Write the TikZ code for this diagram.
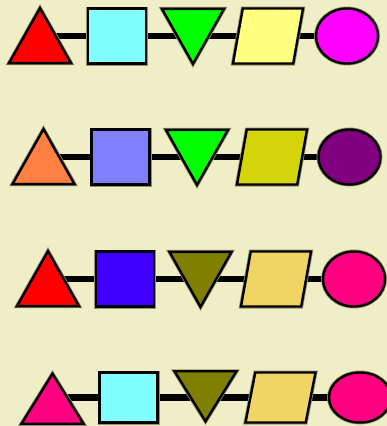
\documentclass[tikz,border=0pt]{standalone}
\usetikzlibrary{shapes.geometric, backgrounds}
\definecolor{fondo}{RGB}{240,238,198}
\definecolor{alone}{RGB}{150,146,110}
\definecolor{rosso}{RGB}{255,0,0}
\definecolor{ciano}{RGB}{128,255,255}
\definecolor{verde}{RGB}{0,255,0}
\definecolor{giallo}{RGB}{255,255,128}
\definecolor{magenta}{RGB}{255,0,255}
\definecolor{arancio}{RGB}{255,128,64}
\definecolor{lilla}{RGB}{128,128,255}
\definecolor{senape}{RGB}{212,212,10}
\definecolor{viola}{RGB}{128,0,128}
\definecolor{blu}{RGB}{64,0,255}
\definecolor{oliva}{RGB}{128,128,0}
\definecolor{sabbia}{RGB}{240,212,100}
\definecolor{rosa}{RGB}{255,0,128}
\tikzset{
  forma/.style   = {draw, line width=2.4pt, inner sep=0pt, preaction={draw=alone, line width=4pt}},
  punta/.style   = {forma, isosceles triangle, isosceles triangle stretches, minimum width=62pt, minimum height=55pt},
  triangolo/.style = {punta, shape border rotate=90, yshift=-9pt},
  imbuto/.style  = {punta, shape border rotate=-90, yshift=9pt},
  quadrato/.style = {forma, rectangle, minimum width=58pt, minimum height=55pt},
  parall/.style  = {forma, trapezium, inner sep=1pt, trapezium left angle=79, trapezium right angle=101, trapezium stretches=true, minimum width=70pt, minimum height=55pt},
  cerchio/.style = {forma, ellipse, minimum width=62pt, minimum height=55pt},
  basso/.style   = {minimum height=50pt},
  link/.style    = {line width=6.5pt}
}

\begin{document}
\begin{tikzpicture}[x=1pt, y=-1pt]
  \useasboundingbox (0,0) rectangle (387,426);

  % riga 1
  \node[triangolo, fill=rosso]   (tri1) at (40,36)  {};
  \node[quadrato, fill=ciano]    (qua1) at (117,36) {};
  \node[imbuto, fill=verde]      (imb1) at (193,36) {};
  \node[parall, fill=giallo]     (par1) at (268,36) {};
  \node[cerchio, fill=magenta]   (cer1) at (347,36) {};

  % riga 2
  \node[triangolo, fill=arancio] (tri2) at (43.5,157) {};
  \node[quadrato, fill=lilla]    (qua2) at (120.5,157) {};
  \node[imbuto, fill=verde]      (imb2) at (197,157) {};
  \node[parall, fill=senape]     (par2) at (272,157) {};
  \node[cerchio, fill=viola]     (cer2) at (349.5,157) {};

  % riga 3
  \node[triangolo, fill=rosso]   (tri3) at (48,279)  {};
  \node[quadrato, fill=blu]      (qua3) at (125,279) {};
  \node[imbuto, fill=oliva]      (imb3) at (200.5,279) {};
  \node[parall, fill=sabbia]     (par3) at (276,279) {};
  \node[cerchio, fill=rosa]      (cer3) at (354,279) {};

  % riga 4
  \node[triangolo, basso, fill=rosa]   (tri4) at (52.5,397.5) {};
  \node[quadrato, basso, fill=ciano]   (qua4) at (128.5,397.5) {};
  \node[imbuto, basso, fill=oliva]     (imb4) at (205.5,397.5) {};
  \node[parall, basso, fill=sabbia]    (par4) at (280.5,397.5) {};
  \node[cerchio, basso, fill=rosa]     (cer4) at (360,397.5) {};

  \begin{scope}[on background layer]
    \fill[fondo] (0,0) rectangle (387,426);
    \foreach \r in {1,2,3,4}
      \draw[link] (tri\r.center |- qua\r.center) -- (cer\r.center);
  \end{scope}

\end{tikzpicture}
\end{document}
